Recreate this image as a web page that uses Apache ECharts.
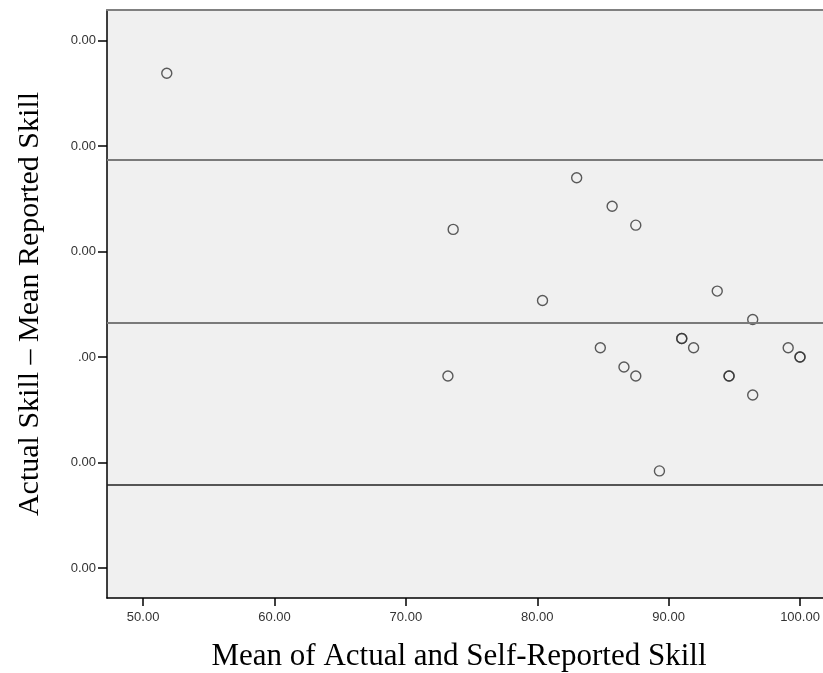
<!DOCTYPE html>
<html><head><meta charset="utf-8">
<script src="https://cdn.jsdelivr.net/npm/echarts@6/dist/echarts.min.js"></script>
<style>html,body{margin:0;padding:0;background:#fff}#c{width:823px;height:673px}</style>
</head><body><div id="c"></div>
<script>
// Data
const meanSkill = [51.8, 83.0, 85.7, 87.5, 73.6, 80.4, 93.7, 96.4, 91.0, 91.0, 84.8, 91.9, 99.1, 100.0, 100.0, 86.6, 87.5, 73.2, 94.6, 94.6, 96.4, 89.3];
const diffSkill = [53.8, 34.0, 28.6, 25.0, 24.2, 10.7, 12.5, 7.1, 3.5, 3.5, 1.75, 1.75, 1.75, 0.0, 0.0, -1.9, -3.6, -3.6, -3.6, -3.6, -7.2, -21.6];
const yTickValues = [-40, -20, 0, 20, 40, 60];
const yTickLabels = ["0.00", "0.00", ".00", "0.00", "0.00", "0.00"];
const xTickValues = [50, 60, 70, 80, 90, 100];
const xTickLabels = ["50.00", "60.00", "70.00", "80.00", "90.00", "100.00"];
const upperLimit = 37.4;
const meanDiff = 6.55;
const lowerLimit = -24.25;

const points = meanSkill.map((x, i) => [x, diffSkill[i]]);
const chart = echarts.init(document.getElementById('c'), null, {renderer: 'canvas'});
const tickFont = {fontFamily: 'Arial, "Liberation Sans", sans-serif', fontSize: 13, color: '#333'};
chart.setOption({
  backgroundColor: '#ffffff',
  animation: false,
  grid: {left: 107, right: 0, top: 10, bottom: 75, show: true, backgroundColor: '#f0f0f0', borderWidth: 0,
         containLabel: false, outerBoundsMode: 'none'},
  xAxis: [{
    type: 'value', min: 47.25, max: 101.75, position: 'bottom',
    splitLine: {show: false},
    axisLine: {show: true, onZero: false, lineStyle: {color: '#000', width: 1.5}},
    axisTick: {show: true, length: 8, lineStyle: {color: '#000', width: 1.5}, customValues: xTickValues},
    axisLabel: Object.assign({margin: 13, customValues: xTickValues, hideOverlap: false,
      formatter: v => xTickLabels[xTickValues.indexOf(v)] ?? ''}, tickFont),
    name: 'Mean of Actual and Self-Reported Skill', nameLocation: 'middle', nameGap: 43,
    nameTextStyle: {fontFamily: '"Liberation Serif", "Times New Roman", serif', fontSize: 31, color: '#000',
                    padding: [0, 12, 0, 0]}
  }, {
    type: 'value', min: 47.25, max: 101.75, position: 'top',
    splitLine: {show: false},
    axisLine: {show: true, onZero: false, lineStyle: {color: '#808080', width: 2}},
    axisTick: {show: false}, axisLabel: {show: false}
  }],
  yAxis: {
    type: 'value', min: -45.7, max: 65.8,
    splitLine: {show: false},
    axisLine: {show: true, onZero: false, lineStyle: {color: '#000', width: 1.5}},
    axisTick: {show: true, length: 9, lineStyle: {color: '#000', width: 1.5}, customValues: yTickValues},
    axisLabel: Object.assign({margin: 11, customValues: yTickValues,
      formatter: v => yTickLabels[yTickValues.indexOf(v)] ?? ''}, tickFont),
    name: 'Actual Skill \u2013 Mean Reported Skill', nameLocation: 'middle', nameGap: 62,
    nameTextStyle: {fontFamily: '"Liberation Serif", "Times New Roman", serif', fontSize: 30, color: '#000'}
  },
  series: [{
    type: 'scatter', data: points, symbol: 'circle', symbolSize: 10,
    itemStyle: {color: 'rgba(0,0,0,0)', borderColor: '#333', borderWidth: 1.4},
    markLine: {
      silent: true, symbol: 'none', label: {show: false}, animation: false,
      data: [
        {yAxis: upperLimit, lineStyle: {color: '#7a7a7a', width: 2, type: 'solid'}},
        {yAxis: meanDiff, lineStyle: {color: '#7a7a7a', width: 2, type: 'solid'}},
        {yAxis: lowerLimit, lineStyle: {color: '#222', width: 1.5, type: 'solid'}}
      ]
    }
  }]
});
</script></body></html>
